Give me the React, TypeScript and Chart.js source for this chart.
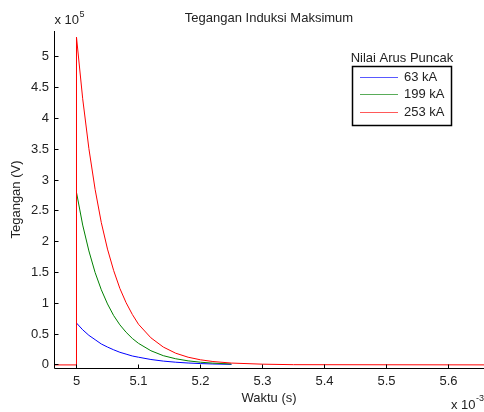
import React, { useEffect, useRef } from "react";
import { Chart, registerables } from "chart.js";

Chart.register(...registerables);

const FONT = '"Liberation Sans", Arial, Helvetica, sans-serif';

const titleText = "Tegangan Induksi Maksimum";
const xTitle = "Waktu (s)";
const yTitle = "Tegangan (V)";
const xExponent = "-3";
const yExponent = "5";
const legendTitle = "Nilai Arus Puncak";
const seriesLabels = ["63 kA", "199 kA", "253 kA"];
const seriesColors = ["#0000ff", "#008000", "#ff0000"];

const xTicks = [5, 5.1, 5.2, 5.3, 5.4, 5.5, 5.6];
const yTicks = [0, 0.5, 1, 1.5, 2, 2.5, 3, 3.5, 4, 4.5, 5];
const xMin = 4.96371;
const xMax = 5.65726;
const yMin = -0.05;
const yMax = 5.42;

// time in units of 1e-3 s, voltage in units of 1e5 V
const decayTime = [5.0, 5.01, 5.02, 5.03, 5.04, 5.05, 5.06, 5.07, 5.08, 5.09, 5.1, 5.12, 5.14, 5.16, 5.18, 5.2, 5.22, 5.25, 5.3, 5.35];
const blueValues = [0.68, 0.57, 0.48, 0.41, 0.34, 0.29, 0.245, 0.205, 0.175, 0.145, 0.125, 0.088, 0.062, 0.044, 0.031, 0.022, 0.015, 0.009, null, null];
const greenValues = [2.8, 2.27, 1.85, 1.5, 1.22, 0.99, 0.8, 0.65, 0.53, 0.43, 0.35, 0.23, 0.15, 0.1, 0.066, 0.044, 0.029, 0.015, null, null];
const redValues = [5.32, 4.32, 3.51, 2.85, 2.31, 1.88, 1.53, 1.24, 1.01, 0.82, 0.66, 0.44, 0.29, 0.19, 0.125, 0.083, 0.055, 0.03, 0.012, 0.004];
const redBaseTime = [4.9, 5.0];
const redBaseValues = [0, 0];
const redTailTime = [5.7];
const redTailValues = [0];

function pts(t: number[], v: (number | null)[]) {
  return t.map((x, i) => ({ x, y: v[i] }));
}

const overlayPlugin = {
  id: "matlabOverlay",
  afterDraw(chart: any) {
    const { ctx, chartArea } = chart;
    const xs = chart.scales.x;
    const ys = chart.scales.y;
    const L = Math.round(chartArea.left) + 0.5;
    const B = Math.round(chartArea.bottom) + 0.5;
    const T = Math.round(chartArea.top);
    const R = chartArea.right;
    ctx.save();
    ctx.strokeStyle = "#000";
    ctx.lineWidth = 1;
    ctx.beginPath();
    ctx.moveTo(L, T);
    ctx.lineTo(L, B);
    ctx.lineTo(R, B);
    xTicks.forEach((v) => {
      const px = Math.floor(xs.getPixelForValue(v)) + 0.5;
      ctx.moveTo(px, B);
      ctx.lineTo(px, B - 4);
    });
    yTicks.forEach((v) => {
      const py = Math.floor(ys.getPixelForValue(v)) + 0.5;
      ctx.moveTo(L, py);
      ctx.lineTo(L + 4, py);
    });
    ctx.stroke();

    ctx.fillStyle = "#222";
    ctx.textBaseline = "alphabetic";
    ctx.textAlign = "left";
    ctx.font = `13px ${FONT}`;
    ctx.fillText("x 10", L, 24);
    let w = ctx.measureText("x 10").width;
    ctx.font = `9px ${FONT}`;
    ctx.fillText(yExponent, L + w + 0.5, 17);

    ctx.font = `13px ${FONT}`;
    const ex = 451;
    ctx.fillText("x 10", ex, 409);
    w = ctx.measureText("x 10").width;
    ctx.font = `9px ${FONT}`;
    ctx.fillText(xExponent, ex + w + 0.5, 401);

    const bx = 352.5, by = 66.5, bw = 99, bh = 59;
    ctx.fillStyle = "#fff";
    ctx.fillRect(bx, by, bw, bh);
    ctx.lineWidth = 1.5;
    ctx.strokeStyle = "#000";
    ctx.strokeRect(bx, by, bw, bh);
    ctx.fillStyle = "#222";
    ctx.font = `13px ${FONT}`;
    ctx.textAlign = "center";
    ctx.textBaseline = "middle";
    ctx.fillText(legendTitle, bx + bw / 2, 58);
    const rows = [77.5, 94.5, 112.5];
    ctx.lineWidth = 1;
    seriesLabels.forEach((lab, i) => {
      ctx.globalAlpha = 0.65;
      ctx.strokeStyle = seriesColors[i];
      ctx.beginPath();
      ctx.moveTo(360, rows[i]);
      ctx.lineTo(398, rows[i]);
      ctx.stroke();
      ctx.globalAlpha = 1;
      ctx.fillStyle = "#222";
      ctx.textAlign = "left";
      ctx.fillText(lab, 404, rows[i]);
    });
    ctx.restore();
  },
};

export default function App() {
  const ref = useRef<HTMLCanvasElement | null>(null);
  useEffect(() => {
    document.body.style.margin = "0";
    const canvas = ref.current;
    if (!canvas) return;
    const chart = new Chart(canvas, {
      type: "line",
      data: {
        datasets: [
          {
            label: seriesLabels[0],
            data: pts(decayTime, blueValues),
            borderColor: seriesColors[0],
            borderWidth: 1,
            pointRadius: 0,
            order: 2,
          },
          {
            label: seriesLabels[1],
            data: pts(decayTime, greenValues),
            borderColor: seriesColors[1],
            borderWidth: 1,
            pointRadius: 0,
            order: 1,
          },
          {
            label: seriesLabels[2],
            data: [...pts(redBaseTime, redBaseValues), ...pts(decayTime, redValues), ...pts(redTailTime, redTailValues)],
            borderColor: seriesColors[2],
            borderWidth: 1,
            pointRadius: 0,
            order: 0,
          },
        ],
      },
      options: {
        responsive: false,
        animation: false,
        spanGaps: false,
        layout: { padding: 0 },
        plugins: {
          legend: { display: false },
          tooltip: { enabled: false },
          title: {
            display: true,
            text: titleText,
            fullSize: false,
            color: "#222",
            font: { family: FONT, size: 13, weight: "normal" },
            padding: { top: 10.7, bottom: 4.7 },
          },
        },
        scales: {
          x: {
            type: "linear",
            min: xMin,
            max: xMax,
            grid: { display: false, drawTicks: false },
            border: { display: false },
            afterBuildTicks: (s: any) => {
              s.ticks = xTicks.map((v) => ({ value: v }));
            },
            afterFit: (s: any) => {
              s.height = 44;
            },
            ticks: {
              color: "#222",
              font: { family: FONT, size: 13 },
              padding: 6,
              maxRotation: 0,
              autoSkip: false,
              callback: (v: any) => String(Number(Number(v).toFixed(1))),
            },
            title: {
              display: true,
              text: xTitle,
              color: "#222",
              font: { family: FONT, size: 13 },
              padding: { top: 0, bottom: 6.2 },
            },
          },
          y: {
            type: "linear",
            min: yMin,
            max: yMax,
            grid: { display: false, drawTicks: false },
            border: { display: false },
            afterBuildTicks: (s: any) => {
              s.ticks = yTicks.map((v) => ({ value: v }));
            },
            afterFit: (s: any) => {
              s.width = 54;
            },
            ticks: {
              color: "#222",
              font: { family: FONT, size: 13 },
              padding: 5,
              autoSkip: false,
              callback: (v: any) => String(Number(Number(v).toFixed(1))),
            },
            title: {
              display: true,
              text: yTitle,
              color: "#222",
              font: { family: FONT, size: 13 },
              padding: { top: 8.2, bottom: 0 },
            },
          },
        },
      },
      plugins: [overlayPlugin],
    } as any);
    return () => chart.destroy();
  }, []);
  return <canvas ref={ref} width={484} height={412} style={{ display: "block" }} />;
}
